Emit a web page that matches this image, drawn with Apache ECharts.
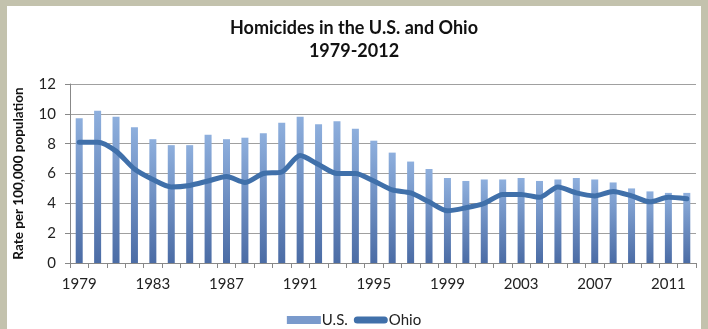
<!DOCTYPE html>
<html><head><meta charset="utf-8">
<script src="https://cdn.jsdelivr.net/npm/echarts@6/dist/echarts.min.js"></script>
<style>
html,body{margin:0;padding:0;background:#c3c2ad;width:708px;height:329px;overflow:hidden}
#frame{position:absolute;left:7px;top:6px;width:694px;height:323px;background:#fff}
#c{position:absolute;left:0;top:0;width:708px;height:329px}
</style></head>
<body><div id="frame"></div><div id="c"></div>
<script>
const years = ["1979","1980","1981","1982","1983","1984","1985","1986","1987","1988","1989","1990","1991","1992","1993","1994","1995","1996","1997","1998","1999","2000","2001","2002","2003","2004","2005","2006","2007","2008","2009","2010","2011","2012"];
const usRate = [9.7,10.2,9.8,9.1,8.3,7.9,7.9,8.6,8.3,8.4,8.7,9.4,9.8,9.3,9.5,9.0,8.2,7.4,6.8,6.3,5.7,5.5,5.6,5.6,5.7,5.5,5.6,5.7,5.6,5.4,5.0,4.8,4.7,4.7];
const ohioRate = [8.1,8.1,7.5,6.3,5.6,5.1,5.2,5.5,5.8,5.4,6.0,6.1,7.2,6.6,6.0,6.0,5.5,4.9,4.7,4.1,3.5,3.7,4.0,4.6,4.6,4.4,5.1,4.7,4.5,4.8,4.5,4.1,4.4,4.3];
const yTicks = [0,2,4,6,8,10,12];

const font = "Lato, 'Open Sans', sans-serif";
const chart = echarts.init(document.getElementById('c'));
chart.setOption({
  backgroundColor: 'transparent',
  animation: false,
  title: {
    text: 'Homicides in the U.S. and Ohio\n1979-2012',
    left: 'center', top: 12,
    textStyle: {fontFamily: font, fontSize: 18, fontWeight: 'bold', color: '#111', lineHeight: 23}
  },
  legend: {
    top: 312, left: 'center', itemGap: 6, padding: 0,
    textStyle: {fontFamily: font, fontSize: 15, color: '#222', padding: [0,0,0,-4], lineHeight: 16},
    data: [
      {name: 'U.S.', icon: 'rect', itemStyle: {color: '#7a9acc'}},
      {name: 'Ohio', icon: 'path://M4,0 H34 A4,4 0 0 1 34,8 H4 A4,4 0 0 1 4,0 Z', itemStyle: {color: '#4070aa'}}
    ],
    itemWidth: 34, itemHeight: 8
  },
  grid: {left: 70, right: 12, top: 84, bottom: 66},
  xAxis: {
    type: 'category', data: years, boundaryGap: true,
    axisLine: {lineStyle: {color: '#888', width: 1}},
    axisTick: {show: true, interval: 0, length: 5, lineStyle: {color: '#888'}},
    axisLabel: {interval: 3, fontFamily: font, fontSize: 15, color: '#222', margin: 14}
  },
  yAxis: {
    type: 'value', min: yTicks[0], max: yTicks[yTicks.length-1], interval: 2,
    name: 'Rate per 100,000 population', nameLocation: 'middle', nameGap: 44,
    nameTextStyle: {fontFamily: font, fontSize: 13.5, fontWeight: 'bold', color: '#111'},
    axisLine: {show: true, lineStyle: {color: '#888'}},
    axisTick: {show: true, length: 5, lineStyle: {color: '#888'}},
    axisLabel: {fontFamily: font, fontSize: 15, color: '#222', margin: 14},
    splitLine: {lineStyle: {color: '#a0a0a0', width: 1}}
  },
  series: [
    {
      name: 'U.S.', type: 'bar', data: usRate, barWidth: 7,
      itemStyle: {color: new echarts.graphic.LinearGradient(0,0,0,1,[
        {offset: 0, color: '#8eafdd'}, {offset: 1, color: '#4b6ca5'}])}
    },
    {
      name: 'Ohio', type: 'line', data: ohioRate, symbol: 'none', smooth: 0.25,
      lineStyle: {color: '#4070aa', width: 5, cap: 'round', join: 'round'},
      itemStyle: {color: '#4070aa'}
    }
  ]
});
</script></body></html>
